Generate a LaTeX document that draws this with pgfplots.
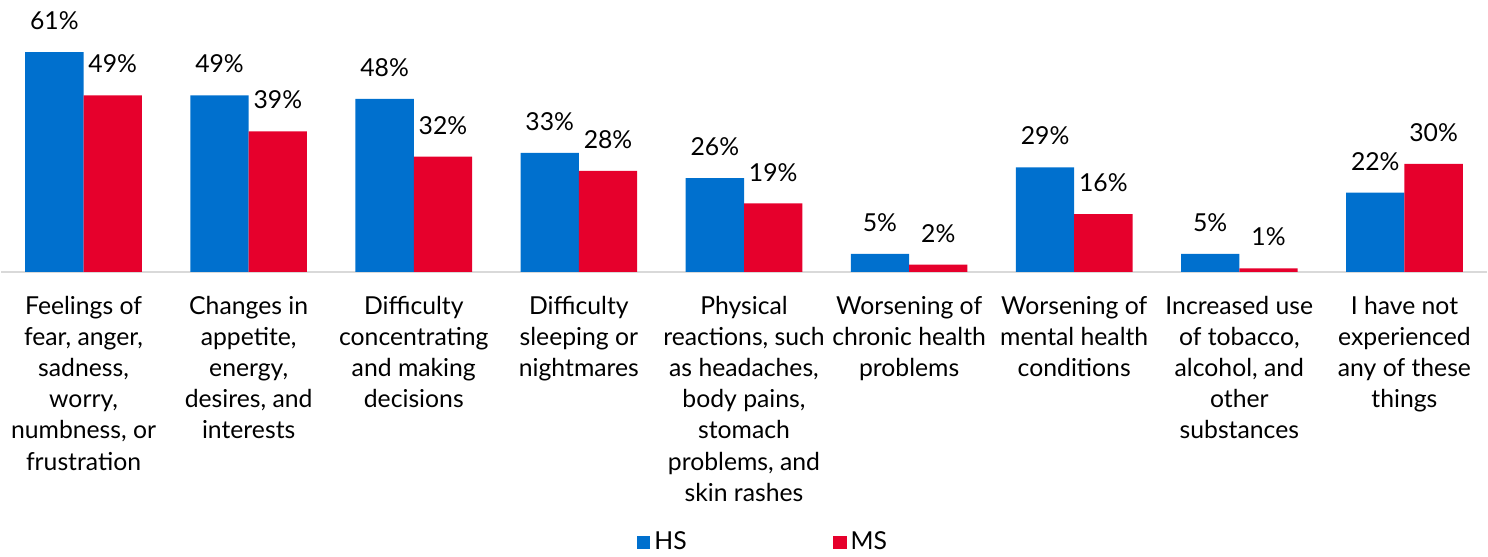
\documentclass[border=0pt]{standalone}
\usepackage{pgfplots}
\pgfplotsset{compat=1.18}
\usepackage{fontspec}
\setmainfont{Lato}
\definecolor{hsblue}{RGB}{0,112,206}
\definecolor{msred}{RGB}{230,0,44}
\definecolor{axgray}{RGB}{217,217,217}
\begin{document}
\begin{tikzpicture}
\begin{axis}[
  scale only axis,
  width=739pt, height=125.5pt,
  ybar=0pt, bar width=29pt,
  xmin=-0.5, xmax=8.5, ymin=0, ymax=70,
  enlarge x limits=false, enlarge y limits=false,
  clip=false,
  /pgf/number format/assume math mode=true,
  axis y line=none,
  axis x line*=bottom,
  x axis line style={draw=axgray, line width=1pt},
  major tick length=0pt,
  xtick={0,...,8},
  xticklabels={
    {Feelings of\\fear, anger,\\sadness,\\worry,\\numbness, or\\frustration},
    {Changes in\\appetite,\\energy,\\desires, and\\interests},
    {Difficulty\\concentrating\\and making\\decisions},
    {Difficulty\\sleeping or\\nightmares},
    {Physical\\reactions, such\\as headaches,\\body pains,\\stomach\\problems, and\\skin rashes},
    {Worsening of\\chronic health\\problems},
    {Worsening of\\mental health\\conditions},
    {Increased use\\of tobacco,\\alcohol, and\\other\\substances},
    {I have not\\experienced\\any of these\\things}},
  xticklabel style={align=center, font=\fontsize{12.3}{15.5}\selectfont, yshift=-8.5pt},
  nodes near coords={\pgfmathprintnumber{\pgfplotspointmeta}\%},
  every node near coord/.append style={font=\fontsize{12.3}{15}\selectfont, black, yshift=7.5pt},
  legend style={draw=none, at={(axis description cs:0.5,0)}, anchor=north, yshift=-127pt, xshift=10pt,
    inner ysep=0pt, legend columns=-1, font=\fontsize{12.3}{15}\selectfont},
  /tikz/every even column/.append style={column sep=71pt},
  legend image code/.code={\fill[#1,draw=none] (0pt,-3.25pt) rectangle (6.5pt,3.25pt);},
]
\addplot[fill=hsblue, draw=none] coordinates {(0,61) (1,49) (2,48) (3,33) (4,26) (5,5) (6,29) (7,5) (8,22)};
\addplot[fill=msred, draw=none] coordinates {(0,49) (1,39) (2,32) (3,28) (4,19) (5,2) (6,16) (7,1) (8,30)};
\legend{HS,MS}
\end{axis}
\path ([yshift=2.5pt]current bounding box.north) circle (0pt);
\end{tikzpicture}
\end{document}
